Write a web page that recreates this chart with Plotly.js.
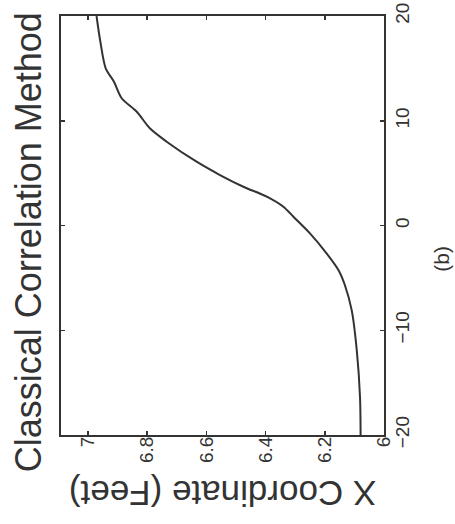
<!DOCTYPE html>
<html>
<head>
<meta charset="utf-8">
<script src="https://cdn.plot.ly/plotly-3.0.1.min.js"></script>
<style>html,body{margin:0;padding:0;background:#fff;}#chart{width:455px;height:524px;}</style>
</head>
<body>
<div id="chart"></div>
<script>
// Position along track (original horizontal axis), drawn vertically
const position = [-20, -16.4, -11.9, -8.1, -5.7, -4.25, -2.66, -0.75, 0.84, 1.79, 2.75, 3.70, 4.82, 6.09, 8.00, 9.28, 10.86, 12.15, 13.73, 15.01, 17.71, 20];
// X coordinate in feet (original vertical axis), drawn horizontally (reversed)
const xCoordFeet = [6.079, 6.081, 6.092, 6.109, 6.132, 6.154, 6.194, 6.250, 6.306, 6.340, 6.396, 6.475, 6.554, 6.633, 6.734, 6.791, 6.835, 6.886, 6.912, 6.940, 6.959, 6.971];

const feetTicks = [6, 6.2, 6.4, 6.6, 6.8, 7];
const feetTickText = ['6', '6.2', '6.4', '6.6', '6.8', '7'];
const posTicks = [-20, -10, 0, 10, 20];
const posTickText = ['\u221220', '\u221210', '0', '10', '20'];

const titleText = 'Classical Correlation Method';
const feetLabel = 'X Coordinate (Feet)';
const panelLabel = '(b)';

const ink = '#333333';
const font = 'Liberation Sans, Arial, sans-serif';

const trace = {
  x: xCoordFeet,
  y: position,
  type: 'scatter',
  mode: 'lines',
  line: {color: ink, width: 2, shape: 'spline', smoothing: 0.8},
  hoverinfo: 'skip'
};

const layout = {
  width: 455,
  height: 524,
  margin: {l: 61, r: 71, t: 16, b: 89},
  paper_bgcolor: '#ffffff',
  plot_bgcolor: '#ffffff',
  showlegend: false,
  font: {family: font, color: ink},
  xaxis: {
    range: [7.091, 6],
    tickvals: feetTicks,
    ticktext: feetTickText,
    tickangle: -90,
    tickfont: {size: 19, color: ink, family: font},
    ticks: 'inside',
    ticklen: 4,
    tickwidth: 1.5,
    tickcolor: ink,
    showline: true,
    linewidth: 2,
    linecolor: ink,
    mirror: 'ticks',
    showgrid: false,
    zeroline: false,
    ticklabelstandoff: -8
  },
  yaxis: {
    range: [-20, 20],
    side: 'right',
    tickvals: posTicks,
    ticktext: posTickText,
    tickangle: -90,
    tickfont: {size: 19, color: ink, family: font},
    ticks: 'inside',
    ticklen: 4,
    tickwidth: 1.5,
    tickcolor: ink,
    showline: true,
    linewidth: 2,
    linecolor: ink,
    mirror: 'ticks',
    showgrid: false,
    zeroline: false,
    ticklabelstandoff: 0
  },
  annotations: [
    {text: titleText, xref: 'paper', yref: 'paper', x: -0.102, y: 0.46,
     xanchor: 'center', yanchor: 'middle', textangle: -90, showarrow: false,
     font: {size: 36, color: ink, family: font}},
    {text: feetLabel, xref: 'paper', yref: 'paper', x: 0.502, y: -0.138,
     xanchor: 'center', yanchor: 'middle', textangle: 180, showarrow: false,
     font: {size: 35, color: ink, family: font}},
    {text: panelLabel, xref: 'paper', yref: 'paper', x: 1.178, y: 0.422,
     xanchor: 'center', yanchor: 'middle', textangle: -90, showarrow: false,
     font: {size: 21, color: ink, family: font}}
  ]
};

Plotly.newPlot('chart', [trace], layout, {staticPlot: true, displayModeBar: false});
</script>
</body>
</html>
